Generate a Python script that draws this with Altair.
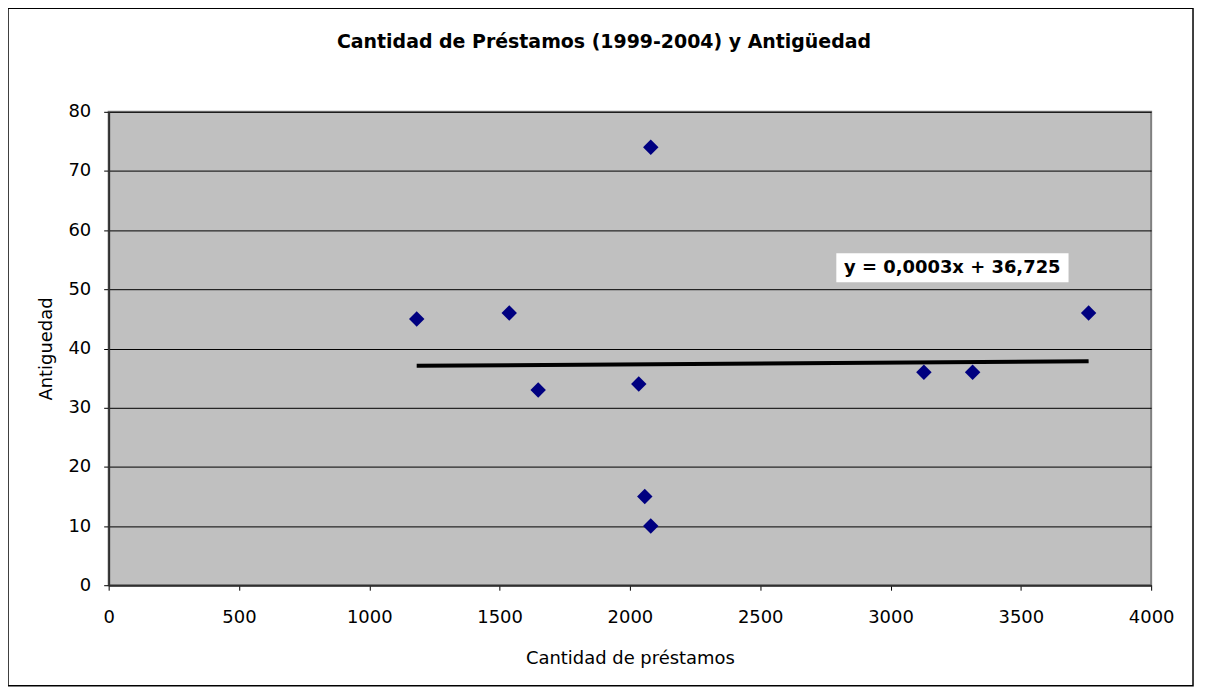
import altair as alt
import pandas as pd

# Data
prestamos = [1182, 1537, 1648, 2034, 2057, 2080, 2080, 3128, 3315, 3760]
antiguedad = [45, 46, 33, 34, 15, 10, 74, 36, 36, 46]

trend_x = [1182, 3760]
trend_y = [37.08, 37.85]

eq_text = ["y = 0,0003x + 36,725"]
eq_x = [3237]
eq_y = [53.6]
eq_box_x = [2792]
eq_box_x2 = [3683]
eq_box_y = [51.2]
eq_box_y2 = [56.1]

x_ticks = [0, 500, 1000, 1500, 2000, 2500, 3000, 3500, 4000]
y_ticks = [0, 10, 20, 30, 40, 50, 60, 70, 80]

FONT = "DejaVu Sans"

pts = pd.DataFrame({"x": prestamos, "y": antiguedad})
trend = pd.DataFrame({"x": trend_x, "y": trend_y})
eq = pd.DataFrame({"x": eq_x, "y": eq_y, "x0": eq_box_x, "x1": eq_box_x2,
                   "y0": eq_box_y, "y1": eq_box_y2, "t": eq_text})
one = pd.DataFrame({"a": [0]})

xscale = alt.Scale(domain=[0, 4000], nice=False, zero=True)
yscale = alt.Scale(domain=[0, 80], nice=False)

xaxis = alt.Axis(title="Cantidad de préstamos", values=x_ticks, format="d", grid=False,
                 tickSize=5, labelPadding=18, titlePadding=24,
                 labelFontSize=18, titleFontSize=18, titleFontWeight="normal",
                 labelFont=FONT, titleFont=FONT, labelColor="black", titleColor="black",
                 domainColor="#303030", domainWidth=2, tickColor="black",
                 labelFlush=False)
yaxis = alt.Axis(title="Antiguedad", values=y_ticks, format="d", grid=True, gridColor="black",
                 gridWidth=1, tickSize=5, labelPadding=13, titlePadding=12,
                 labelFontSize=18, titleFontSize=18, titleFontWeight="normal",
                 labelFont=FONT, titleFont=FONT, labelColor="black", titleColor="black",
                 domainColor="#303030", domainWidth=2, tickColor="black",
                 labelFlush=False)

points = alt.Chart(pts).mark_point(shape="diamond", filled=True, size=240,
                                   color="#000080", opacity=1).encode(
    x=alt.X("x:Q", scale=xscale, axis=xaxis),
    y=alt.Y("y:Q", scale=yscale, axis=yaxis),
)

line = alt.Chart(trend).mark_line(color="black", strokeWidth=4).encode(
    x=alt.X("x:Q", scale=xscale),
    y=alt.Y("y:Q", scale=yscale),
)

box = alt.Chart(eq).mark_rect(color="white", opacity=1).encode(
    x=alt.X("x0:Q", scale=xscale), x2="x1:Q",
    y=alt.Y("y0:Q", scale=yscale), y2="y1:Q",
)

label = alt.Chart(eq).mark_text(font=FONT, fontSize=18, fontWeight="bold",
                                color="black", align="center",
                                baseline="middle").encode(
    x=alt.X("x:Q", scale=xscale),
    y=alt.Y("y:Q", scale=yscale),
    text="t:N",
)

frame = alt.Chart(one).mark_rect(fill="white", fillOpacity=0, stroke="black",
                                 strokeWidth=1.5).encode(
    x=alt.value(-101), x2=alt.value(1088),
    y=alt.value(-104), y2=alt.value(576),
)

chart = alt.layer(line, points, box, label, frame).properties(
    width=1046, height=475,
    title=alt.TitleParams("Cantidad de Préstamos (1999-2004) y Antigüedad",
                          font=FONT, fontSize=19, fontWeight="bold",
                          color="black", anchor="middle", frame="group",
                          offset=-45, dx=-26),
    autosize=alt.AutoSizeParams(type="none"),
    padding={"left": 101, "top": 103, "right": 46, "bottom": 106},
).configure(
    background="white"
).configure_view(
    fill="#C0C0C0", stroke="#808080", strokeWidth=2
)

chart.save("out.html", embed_options={"renderer": "svg", "actions": False})
